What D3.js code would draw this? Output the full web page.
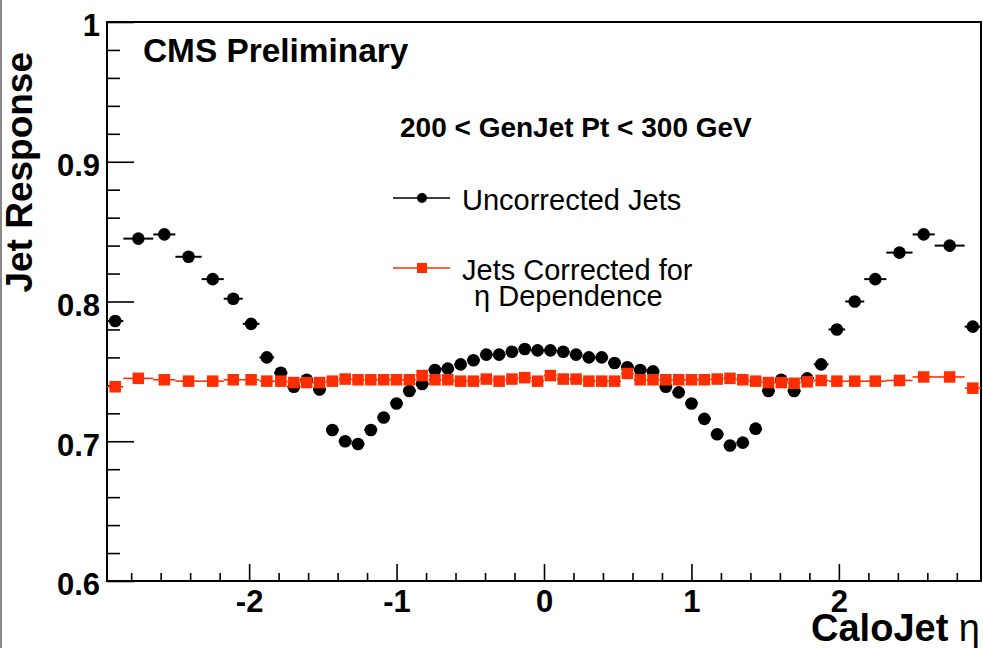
<!DOCTYPE html>
<html>
<head>
<meta charset="utf-8">
<script src="https://cdn.jsdelivr.net/npm/d3@7"></script>
<style>
  html, body { margin: 0; padding: 0; background: #fff; }
  svg { display: block; font-family: "Liberation Sans", Arial, Helvetica, sans-serif; }
</style>
</head>
<body>
<svg id="chart" width="983" height="648"></svg>
<script>
// ---- data ----
// eta bin edges (CaloTower eta bins), from -2.964 to 2.964
const etaEdgesPos = [0, 0.087, 0.174, 0.261, 0.348, 0.435, 0.522, 0.609, 0.696, 0.783, 0.870,
  0.957, 1.044, 1.131, 1.218, 1.305, 1.392, 1.479, 1.566, 1.653, 1.740, 1.830, 1.930,
  2.043, 2.172, 2.322, 2.500, 2.650, 2.853, 2.964];
const etaEdges = etaEdgesPos.slice(1).reverse().map(v => -v).concat(etaEdgesPos);

const uncorrected = [0.786, 0.845, 0.848, 0.832, 0.816, 0.802, 0.784, 0.760, 0.749, 0.739,
  0.744, 0.737, 0.708, 0.700, 0.698, 0.708, 0.717, 0.727, 0.736, 0.741,
  0.751, 0.752, 0.755, 0.758, 0.762, 0.762, 0.764, 0.766, 0.765,
  0.765, 0.764, 0.762, 0.760, 0.760, 0.756, 0.753, 0.751, 0.750, 0.739,
  0.735, 0.727, 0.716, 0.705, 0.697, 0.699, 0.709, 0.736, 0.744, 0.736,
  0.745, 0.755, 0.780, 0.800, 0.816, 0.835, 0.848, 0.840, 0.782];

const corrected = [0.739, 0.745, 0.744, 0.743, 0.743, 0.744, 0.744, 0.743, 0.743, 0.742,
  0.742, 0.742, 0.743, 0.7445, 0.744, 0.744, 0.744, 0.744, 0.744, 0.747,
  0.744, 0.744, 0.743, 0.743, 0.7445, 0.743, 0.7445, 0.7455, 0.743,
  0.747, 0.7445, 0.7445, 0.743, 0.743, 0.743, 0.7485, 0.744, 0.744, 0.744,
  0.744, 0.744, 0.744, 0.7445, 0.745, 0.744, 0.743, 0.742, 0.742, 0.7415,
  0.7425, 0.7435, 0.743, 0.743, 0.743, 0.7435, 0.746, 0.746, 0.738];

const yTickValues = [0.6, 0.7, 0.8, 0.9, 1.0];
const yTickLabels = ["0.6", "0.7", "0.8", "0.9", "1"];
const xTickValues = [-2, -1, 0, 1, 2];
const xTickLabels = ["-2", "-1", "0", "1", "2"];

const titleText = "CMS Preliminary";
const rangeText = "200 < GenJet Pt < 300 GeV";
const legendLabels = [["Uncorrected Jets"], ["Jets Corrected for", "\u03b7 Dependence"]];
const yTitle = "Jet Response";
const xTitle = "CaloJet";

// ---- chart ----
const svg = d3.select("#chart");
const mLeft = 107, mRight = 981, mTop = 22, mBottom = 581;
const x = d3.scaleLinear().domain([-2.964, 2.964]).range([mLeft, mRight]);
const y = d3.scaleLinear().domain([0.6, 1.0]).range([mBottom, mTop]);

const RED = "#ff2d00";
const FONT = "'Liberation Sans', Arial, Helvetica, sans-serif";

// canvas border line at left
svg.append("line").attr("x1", 1).attr("x2", 1).attr("y1", 0).attr("y2", 648)
  .attr("stroke", "#888").attr("stroke-width", 2);

// frame
svg.append("rect").attr("x", mLeft).attr("y", mTop).attr("width", mRight - mLeft).attr("height", mBottom - mTop)
  .attr("fill", "none").attr("stroke", "#000").attr("stroke-width", 2);

// y minor ticks
const yMinorVals = d3.range(0.62, 1.0, 0.02).filter(v => Math.abs(v * 10 - Math.round(v * 10)) > 1e-6);
const yMinor = d3.axisLeft(y).tickValues(yMinorVals).tickSize(-13).tickFormat("");
svg.append("g").attr("transform", `translate(${mLeft},0)`).call(yMinor)
  .call(g => g.select(".domain").remove())
  .call(g => g.selectAll("line").attr("stroke-width", 1.6));

// y major
const yAxis = d3.axisLeft(y).tickValues(yTickValues).tickSize(-27).tickPadding(7)
  .tickFormat((d, i) => yTickLabels[i]);
svg.append("g").attr("transform", `translate(${mLeft},0)`).call(yAxis)
  .call(g => g.select(".domain").remove())
  .call(g => g.selectAll("line").attr("stroke-width", 1.6))
  .call(g => g.selectAll("text").attr("dy", "0.45em")
     .style("font-size", "31px").style("font-weight", "bold").attr("fill", "#000")
     .style("font-family", FONT));

// x minor ticks
const xMinorVals = d3.range(-2.8, 2.9, 0.2).filter(v => Math.abs(v - Math.round(v)) > 1e-6);
const xMinor = d3.axisBottom(x).tickValues(xMinorVals).tickSize(-8).tickFormat("");
svg.append("g").attr("transform", `translate(0,${mBottom})`).call(xMinor)
  .call(g => g.select(".domain").remove())
  .call(g => g.selectAll("line").attr("stroke-width", 1.6));

// x major
const xAxis = d3.axisBottom(x).tickValues(xTickValues).tickSize(-17).tickPadding(9)
  .tickFormat((d, i) => xTickLabels[i]);
svg.append("g").attr("transform", `translate(0,${mBottom})`).call(xAxis)
  .call(g => g.select(".domain").remove())
  .call(g => g.selectAll("line").attr("stroke-width", 1.6))
  .call(g => g.selectAll("text").attr("dy", "0.71em")
     .style("font-size", "31px").style("font-weight", "bold").attr("fill", "#000")
     .style("font-family", FONT));

// ---- data marks ----
const bins = d3.range(uncorrected.length).map(i => ({
  lo: etaEdges[i], hi: etaEdges[i + 1], c: (etaEdges[i] + etaEdges[i + 1]) / 2,
  u: uncorrected[i], r: corrected[i]
}));

svg.append("g").selectAll("line").data(bins).join("line")
  .attr("x1", d => x(d.lo)).attr("x2", d => x(d.hi))
  .attr("y1", d => y(d.r)).attr("y2", d => y(d.r))
  .attr("stroke", RED).attr("stroke-width", 1.6);

svg.append("g").selectAll("line").data(bins).join("line")
  .attr("x1", d => x(d.lo)).attr("x2", d => x(d.hi))
  .attr("y1", d => y(d.u)).attr("y2", d => y(d.u))
  .attr("stroke", "#000").attr("stroke-width", 2);

svg.append("g").selectAll("circle").data(bins).join("circle")
  .attr("cx", d => x(d.c)).attr("cy", d => y(d.u)).attr("r", 6.3).attr("fill", "#000");

const sq = 11.5;
svg.append("g").selectAll("rect").data(bins).join("rect")
  .attr("x", d => x(d.c) - sq / 2).attr("y", d => y(d.r) - sq / 2)
  .attr("width", sq).attr("height", sq).attr("fill", RED);

// ---- texts ----
svg.append("text").attr("x", 143).attr("y", 62).text(titleText)
  .style("font-size", "33.4px").style("font-weight", "bold");

svg.append("text").attr("x", 400).attr("y", 137).text(rangeText)
  .style("font-size", "28px").style("font-weight", "bold");

// legend
const legY = [198, 268];
const legCol = ["#000", RED];
legY.forEach((ly, i) => {
  svg.append("line").attr("x1", 393).attr("x2", 450).attr("y1", ly).attr("y2", ly)
    .attr("stroke", legCol[i]).attr("stroke-width", 1.6);
});
svg.append("circle").attr("cx", 422).attr("cy", legY[0]).attr("r", 5).attr("fill", "#000");
svg.append("rect").attr("x", 422 - 5).attr("y", legY[1] - 5).attr("width", 10).attr("height", 10).attr("fill", RED);

svg.append("text").attr("x", 462).attr("y", 210).text(legendLabels[0][0]).style("font-size", "29px");
svg.append("text").attr("x", 462).attr("y", 280).text(legendLabels[1][0]).style("font-size", "29px");
svg.append("text").attr("x", 474).attr("y", 306).text(legendLabels[1][1]).style("font-size", "29px");

// axis titles
svg.append("text").attr("transform", "translate(32,52) rotate(-90)")
  .attr("text-anchor", "end").text(yTitle)
  .style("font-size", "37px").style("font-weight", "bold");

const xt = svg.append("text").attr("x", 980).attr("y", 641).attr("text-anchor", "end")
  .style("font-size", "38px");
xt.append("tspan").style("font-weight", "bold").text(xTitle + " ");
xt.append("tspan").style("font-weight", "normal").text("\u03b7");
</script>
</body>
</html>
